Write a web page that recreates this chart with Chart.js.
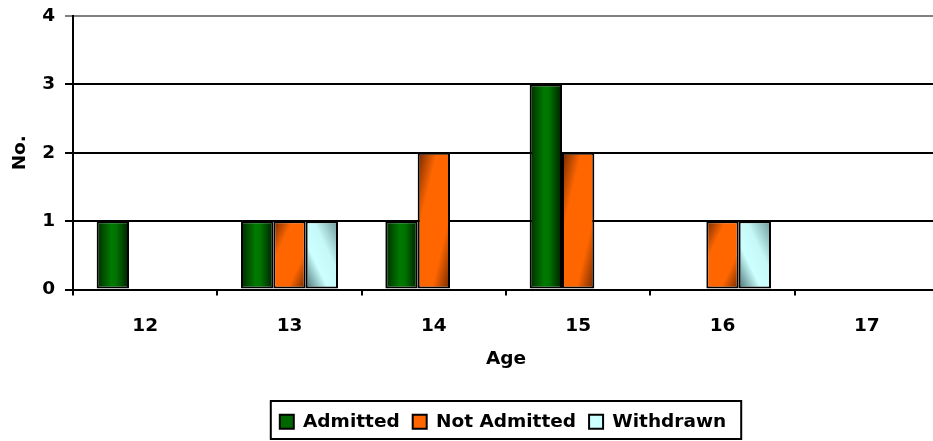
<!DOCTYPE html>
<html>
<head>
<meta charset="utf-8">
<title>Age distribution</title>
<script src="https://cdn.jsdelivr.net/npm/chart.js@4/dist/chart.umd.min.js"></script>
<style>
  html, body { margin: 0; padding: 0; background: #fff; overflow: hidden; }
  canvas { display: block; }
</style>
</head>
<body>
<canvas id="c" width="940" height="441"></canvas>
<script>
// Counts per age group
const ages = ['12', '13', '14', '15', '16', '17'];
const admitted = [1, 1, 1, 3, 0, 0];
const notAdmitted = [0, 1, 2, 2, 1, 0];
const withdrawn = [0, 1, 0, 0, 1, 0];
const yTicks = [0, 1, 2, 3, 4];

const FONT = { family: '"DejaVu Sans", Verdana, sans-serif', size: 18.5, weight: 'bold' };
Chart.defaults.font = FONT;
Chart.defaults.color = '#000';

// Shaded fills for each series, built from the bar geometry at draw time
function shade(ctx, kind, el) {
  const L = el.x - el.width / 2, W = el.width;
  const T = Math.min(el.y, el.base), H = Math.abs(el.base - el.y);
  let g;
  if (kind === 'green') {
    g = ctx.createLinearGradient(L, 0, L + W, 0);
    g.addColorStop(0, '#002a00');
    g.addColorStop(0.45, '#007a00');
    g.addColorStop(0.6, '#007400');
    g.addColorStop(1, '#001e00');
    return g;
  }
  const k = (H * H + W * W) || 1;
  if (kind === 'orange') {
    g = ctx.createLinearGradient(L, T, L + 2 * W * H * H / k, T + 2 * W * W * H / k);
    g.addColorStop(0, '#6e2800');
    g.addColorStop(0.3, '#ff6600');
    g.addColorStop(0.72, '#ff6600');
    g.addColorStop(1, '#6e2800');
    return g;
  }
  g = ctx.createLinearGradient(L, T + H, L + 2 * W * H * H / k, T + H - 2 * W * W * H / k);
  g.addColorStop(0, '#456e6e');
  g.addColorStop(0.35, '#ccffff');
  g.addColorStop(0.62, '#c6f8f8');
  g.addColorStop(1, '#6a9696');
  return g;
}

const barShading = {
  id: 'barShading',
  beforeDatasetsDraw(chart) {
    chart.data.datasets.forEach((ds, i) => {
      const meta = chart.getDatasetMeta(i);
      meta.data.forEach(el => {
        if (Math.abs(el.base - el.y) < 0.5) return;
        el.options = Object.assign({}, el.options, { backgroundColor: shade(chart.ctx, ds.shadeKind, el) });
      });
    });
  }
};

// Centre the legend row under the plot area and frame it
const legendFrame = {
  id: 'legendFrame',
  afterLayout(chart) {
    const lg = chart.legend, ca = chart.chartArea;
    if (lg) lg.left = ca.left + ca.right - lg.right - 6;
  },
  afterDraw(chart) {
    const lg = chart.legend;
    if (!lg || !lg.legendHitBoxes || !lg.legendHitBoxes.length) return;
    const boxes = lg.legendHitBoxes;
    const left = Math.min(...boxes.map(b => b.left)) - 9;
    const right = Math.max(...boxes.map(b => b.left + b.width)) + 15;
    const ctx = chart.ctx;
    ctx.save();
    ctx.strokeStyle = '#000';
    ctx.lineWidth = 2;
    ctx.strokeRect(left, 401, right - left, 38);
    ctx.restore();
  }
};

new Chart(document.getElementById('c'), {
  type: 'bar',
  data: {
    labels: ages,
    datasets: [
      { label: 'Admitted', data: admitted, backgroundColor: '#006600', borderColor: '#000', shadeKind: 'green' },
      { label: 'Not Admitted', data: notAdmitted, backgroundColor: '#ff6600', borderColor: '#000', shadeKind: 'orange' },
      { label: 'Withdrawn', data: withdrawn, backgroundColor: '#ccffff', borderColor: '#000', shadeKind: 'cyan' }
    ]
  },
  options: {
    responsive: false,
    animation: false,
    devicePixelRatio: 1,
    layout: { padding: { top: 16, left: 0, right: 1, bottom: 0 } },
    datasets: {
      bar: { categoryPercentage: 0.672, barPercentage: 1, borderWidth: 2, borderSkipped: false }
    },
    plugins: {
      tooltip: { enabled: false },
      legend: {
        position: 'bottom',
        labels: { boxWidth: 14, boxHeight: 14, padding: 13, font: FONT, color: '#000' }
      }
    },
    scales: {
      x: {
        grid: { offset: true, drawOnChartArea: false, color: '#000', lineWidth: 2, tickLength: 6 },
        border: { color: '#000', width: 2 },
        ticks: { padding: 20, font: FONT, color: '#000', maxRotation: 0 },
        title: { display: true, text: 'Age', font: FONT, color: '#000', padding: { top: 0, bottom: 29 } },
        afterFit(scale) { scale.height = 110; }
      },
      y: {
        min: 0, max: 4,
        afterBuildTicks(scale) { scale.ticks = yTicks.map(v => ({ value: v })); },
        grid: {
          color: c => (c.tick && c.tick.value === 4 ? '#808080' : '#000'),
          lineWidth: 2, tickLength: 8
        },
        border: { color: '#000', width: 2 },
        ticks: { padding: 10, font: FONT, color: '#000' },
        title: { display: true, text: 'No.', font: FONT, color: '#000', padding: { top: 9, bottom: 0 } },
        afterFit(scale) {
          scale.width = 73;
          scale.paddingTop = 0;
          scale.paddingBottom = 0;
        }
      }
    }
  },
  plugins: [barShading, legendFrame]
});
</script>
</body>
</html>
